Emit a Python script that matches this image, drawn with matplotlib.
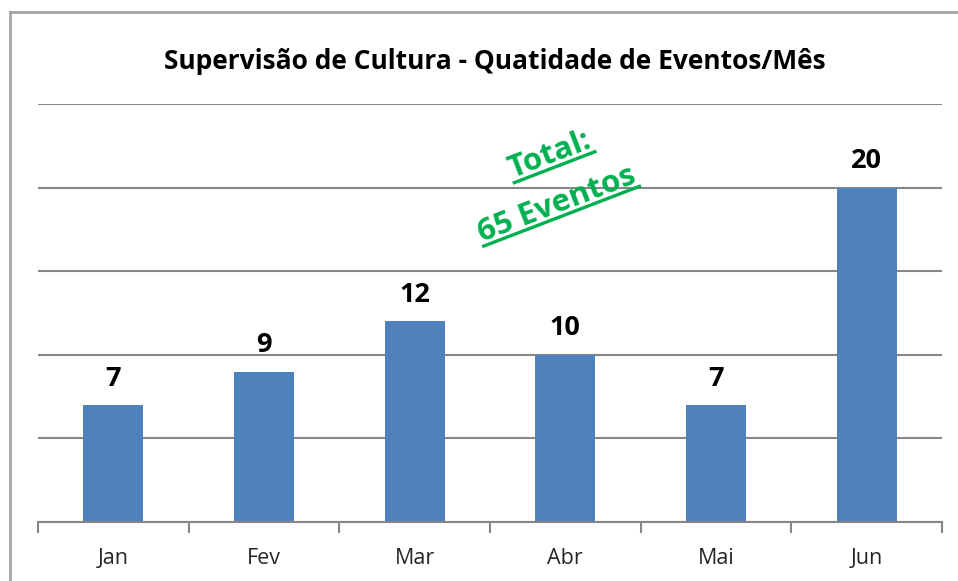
import numpy as np
import matplotlib
matplotlib.use("Agg")
import matplotlib.pyplot as plt
from matplotlib.lines import Line2D

# Data
months = ["Jan", "Fev", "Mar", "Abr", "Mai", "Jun"]
events = [7, 9, 12, 10, 7, 20]
title = "Supervisão de Cultura - Quatidade de Eventos/Mês"
note_lines = ["Total:", "65 Eventos"]

W, H = 958, 581
fig = plt.figure(figsize=(W / 100, H / 100), dpi=100)
FONT = ["Open Sans", "DejaVu Sans"]

# outer chart frame (top and left border visible)
fig.add_artist(Line2D([10 / W, 10 / W], [0, 1 - 12 / H], transform=fig.transFigure,
                      color="#a6a6a6", lw=2))
fig.add_artist(Line2D([10 / W, 1], [1 - 12 / H, 1 - 12 / H], transform=fig.transFigure,
                      color="#a6a6a6", lw=2))

ax = fig.add_axes([38 / W, (H - 522) / H, (942 - 38) / W, (522 - 104) / H])
x = np.arange(len(months))
bars = ax.bar(x, events, width=0.4, color="#4F81BD", zorder=3)
ax.set_xlim(-0.5, len(months) - 0.5)
ax.set_ylim(0, 25)
ax.set_yticks([0, 5, 10, 15, 20, 25])
ax.yaxis.grid(True, color="#868686", lw=1.5, zorder=0)
ax.tick_params(axis="y", left=False, labelleft=False)
for s in ["top", "right", "left"]:
    ax.spines[s].set_visible(False)
ax.spines["bottom"].set_color("#868686")
ax.spines["bottom"].set_linewidth(1.5)
ax.spines["bottom"].set_zorder(4)

ax.set_xticks(x)
ax.set_xticklabels(months, fontsize=15.5, color="#262626", family=FONT)
ax.tick_params(axis="x", length=0, pad=18.5)
ax.set_xticks(np.arange(-0.5, len(months)), minor=True)
ax.tick_params(axis="x", which="minor", length=8, width=1.5, color="#868686")

for b, v in zip(bars, events):
    ax.annotate(str(v), (b.get_x() + b.get_width() / 2, v), xytext=(0, 14),
                textcoords="offset points", ha="center", va="baseline",
                fontsize=19.5, fontweight="bold", color="black", family=FONT)

fig.text(495 / W, 1 - 69 / H, title, ha="center", va="baseline",
         fontsize=19, fontweight="bold", color="black", family=FONT)

# rotated green underlined note
theta = 21
green = "#00B050"
centers = [(553, 163), (560, 212)]  # baseline centers in pixels (from top)
fs_note = 22.5
fig.canvas.draw()
renderer = fig.canvas.get_renderer()
for (cx, cy), txt in zip(centers, note_lines):
    t = fig.text(cx / W, 1 - cy / H, txt, ha="center", va="baseline",
                 rotation=theta, rotation_mode="anchor", fontsize=fs_note,
                 fontweight="bold", color=green, family=FONT)
    tmp = fig.text(0, 0, txt, fontsize=fs_note, fontweight="bold", family=FONT)
    w = tmp.get_window_extent(renderer).width
    tmp.remove()
    th = np.deg2rad(theta)
    ux, uy = np.cos(th), np.sin(th)
    nx, ny = np.sin(th), -np.cos(th)
    d = 4.5
    px0 = cx - w / 2 * ux + d * nx
    py0 = (H - cy) - w / 2 * uy + d * ny
    px1 = cx + w / 2 * ux + d * nx
    py1 = (H - cy) + w / 2 * uy + d * ny
    fig.add_artist(Line2D([px0 / W, px1 / W], [py0 / H, py1 / H],
                          transform=fig.transFigure, color=green, lw=2.4))

fig.savefig("out.png", dpi=100)
